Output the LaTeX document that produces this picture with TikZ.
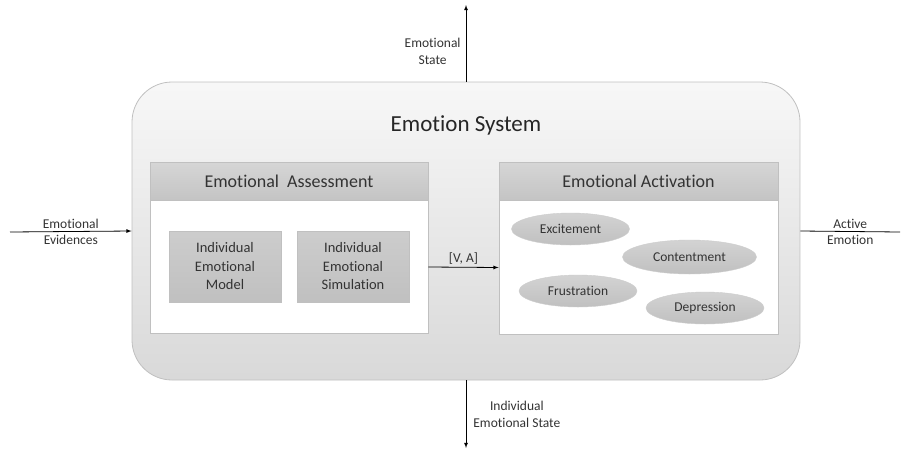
\documentclass[tikz,border=0pt]{standalone}
\usepackage{fontspec}
\setmainfont{Carlito}[Ligatures={NoCommon}]
\usetikzlibrary{shapes.geometric}
\definecolor{txt}{HTML}{333333}
\definecolor{edge}{HTML}{C0C0C0}
\definecolor{head}{HTML}{C4C4C4}
\definecolor{oval}{HTML}{C0C0C0}

\begin{document}
\begin{tikzpicture}[x=1pt,y=-1pt,
    lbl/.style={text=txt,font=\fontsize{13.5}{17}\selectfont,align=center,inner sep=2pt},
    panel/.style={draw=edge,line width=0.8pt,fill=white,minimum width=278,minimum height=171},
    header/.style={draw=edge,line width=0.8pt,top color=head!70,bottom color=head,minimum width=278,minimum height=38,anchor=north,text=txt,font=\fontsize{18}{22}\selectfont},
    part/.style={draw=edge,line width=0.8pt,top color=oval!80,bottom color=oval,minimum width=112,minimum height=71,align=center,text=txt,font=\fontsize{14.5}{18.5}\selectfont},
    mood/.style={ellipse,draw=edge!80,top color=oval!70,bottom color=oval,minimum width=118,minimum height=32,inner sep=0pt,text=txt,font=\fontsize{13.5}{16}\selectfont},
    arr/.style={-latex,black,line width=0.8pt}]
  \useasboundingbox (0,0) rectangle (901,450);
  % outer system
  \node [draw=edge,line width=0.8pt,rounded corners=40pt,top color=black!3,bottom color=black!15,minimum width=668,minimum height=298] (sys) at (466,231) {};
  \node [text=black!85,font=\fontsize{23}{26}\selectfont] (title) at (466,125) {Emotion System};
  % assessment
  \node [panel] (assess) at (289,247.5) {};
  \node [header] (assesshead) at (assess.north) {Emotional\ \ Assessment};
  \node [part] (model) at (225,266.5) {Individual\\Emotional\\Model};
  \node [part] (simul) at (353,266.5) {Individual\\Emotional\\Simulation};
  % activation
  \node [panel,minimum width=279,minimum height=172] (activ) at (638.5,248) {};
  \node [header,minimum width=279] (activhead) at (activ.north) {Emotional Activation};
  \node [mood] (excite) at (570.5,229) {Excitement};
  \node [mood,minimum width=134,minimum height=34] (content) at (689.5,257) {Contentment};
  \node [mood] (frust) at (578,291) {Frustration};
  \node [mood] (depress) at (705,308) {Depression};
  % connectors
  \draw [arr] ([yshift=-19.5pt]assess.east) -- ([yshift=-19.5pt]activ.west)
    node [lbl,midway,above=1pt] (va) {[V, A]};
  \coordinate (stateout) at (466,5);
  \draw [arr] (sys.north) -- (stateout)
    node [lbl,pos=0.4,left=3pt] (statelbl) {Emotional\\State};
  \coordinate (indivout) at (466,448);
  \draw [arr] (sys.south) -- (indivout)
    node [lbl,pos=0.5,right=5pt] (indivlbl) {Individual\\Emotional State};
  \coordinate (evin) at (10,232);
  \draw [arr] (evin) -- (sys.west)
    node [lbl,midway,above=1pt] (evlbl) {Emotional}
    node [lbl,midway,below=1pt] (evlbl2) {Evidences};
  \coordinate (actout) at (900,232);
  \draw [line width=0.8pt] (sys.east) -- (actout)
    node [lbl,midway,above=1pt] (actlbl) {Active}
    node [lbl,midway,below=1pt] (actlbl2) {Emotion};
\end{tikzpicture}
\end{document}
